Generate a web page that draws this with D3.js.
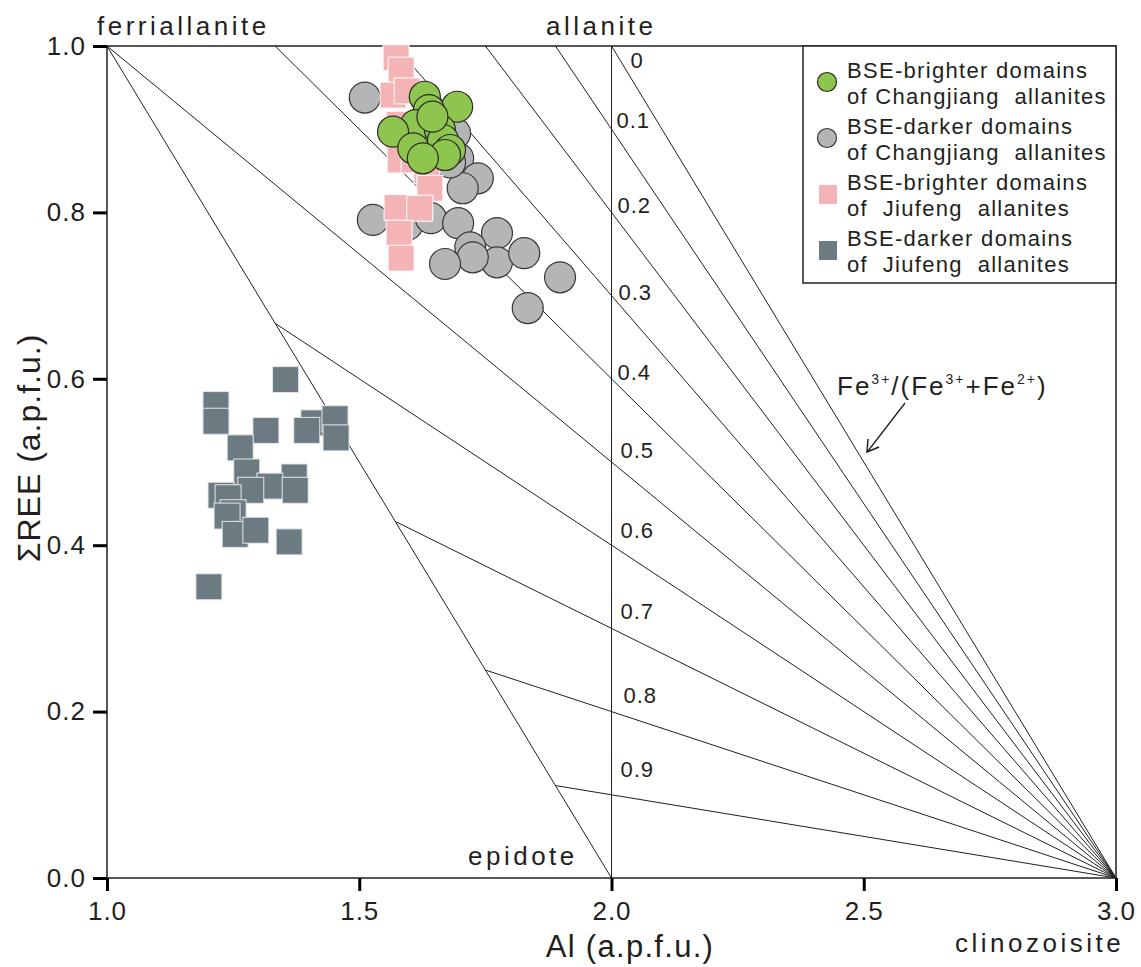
<!DOCTYPE html>
<html>
<head>
<meta charset="utf-8">
<script src="https://cdn.jsdelivr.net/npm/d3@7"></script>
<style>
  body { margin: 0; background: #fff; }
  svg text { font-family: "Liberation Sans", Arial, sans-serif; fill: #231f20; }
</style>
</head>
<body>
<div id="chart"></div>
<script>
// Al vs total REE (a.p.f.u.) values, as [Al, REE]
var changjiangBright = [
  [1.630, 0.939], [1.694, 0.927], [1.638, 0.923], [1.612, 0.905], [1.567, 0.897],
  [1.660, 0.899], [1.666, 0.887], [1.680, 0.875], [1.670, 0.869], [1.607, 0.877],
  [1.626, 0.865], [1.645, 0.915]
];
var changjiangDark = [
  [1.511, 0.938], [1.690, 0.895], [1.696, 0.865], [1.735, 0.841], [1.705, 0.829],
  [1.527, 0.791], [1.595, 0.785], [1.642, 0.793], [1.696, 0.787], [1.773, 0.775],
  [1.720, 0.758], [1.773, 0.740], [1.725, 0.746], [1.670, 0.738], [1.827, 0.751],
  [1.898, 0.722], [1.834, 0.685], [1.680, 0.860]
];
var jiufengBright = [
  [1.573, 0.986], [1.583, 0.971], [1.567, 0.941], [1.595, 0.946], [1.579, 0.906],
  [1.577, 0.891], [1.581, 0.863], [1.609, 0.863], [1.634, 0.850], [1.640, 0.829],
  [1.575, 0.806], [1.620, 0.805], [1.579, 0.775], [1.583, 0.745]
];
var jiufengDark = [
  [1.354, 0.599], [1.216, 0.569], [1.216, 0.549], [1.315, 0.538], [1.264, 0.517],
  [1.410, 0.547], [1.396, 0.538], [1.452, 0.552], [1.454, 0.529], [1.277, 0.488],
  [1.371, 0.482], [1.323, 0.471], [1.373, 0.466], [1.226, 0.460], [1.285, 0.466],
  [1.240, 0.457], [1.250, 0.439], [1.238, 0.435], [1.254, 0.413], [1.295, 0.418],
  [1.361, 0.404], [1.202, 0.350]
];

// Fe3+/(Fe3+ + Fe2+) isolines and their labels
var feRatios = [0, 0.1, 0.2, 0.3, 0.4, 0.5, 0.6, 0.7, 0.8, 0.9];
var feLabels = ["0", "0.1", "0.2", "0.3", "0.4", "0.5", "0.6", "0.7", "0.8", "0.9"];

var xTicks = [1.0, 1.5, 2.0, 2.5, 3.0];
var yTicks = [0, 0.2, 0.4, 0.6, 0.8, 1.0];

var legendItems = [
  ["BSE-brighter domains", "of Changjiang  allanites"],
  ["BSE-darker domains", "of Changjiang  allanites"],
  ["BSE-brighter domains", "of  Jiufeng  allanites"],
  ["BSE-darker domains", "of  Jiufeng  allanites"]
];

var svgWidth = 1141;
var svgHeight = 967;
var plot = { left: 107, right: 1116, top: 46, bottom: 878 };
var ink = "#231f20";

var svg = d3.select("#chart").append("svg")
  .attr("width", svgWidth)
  .attr("height", svgHeight);

var x = d3.scaleLinear().domain([1, 3]).range([plot.left, plot.right]);
var y = d3.scaleLinear().domain([0, 1]).range([plot.bottom, plot.top]);

// isolines: all radiate from clinozoisite (3, 0)
var lines = svg.append("g")
  .attr("stroke", ink)
  .attr("stroke-width", 1)
  .attr("fill", "none");

feRatios.forEach(function(r) {
  var start;
  if (r <= 0.5) start = [3 - 1 / (1 - r), 1];   // meets REE = 1
  else start = [3 - 1 / r, 2 - (3 - 1 / r)];    // meets ferriallanite-epidote join
  lines.append("line")
    .attr("x1", x(start[0])).attr("y1", y(start[1]))
    .attr("x2", x(3)).attr("y2", y(0));
});
// ferriallanite - epidote join and the Al = 2 line
lines.append("line")
  .attr("x1", x(1)).attr("y1", y(1)).attr("x2", x(2)).attr("y2", y(0));
lines.append("line")
  .attr("x1", x(2)).attr("y1", y(1)).attr("x2", x(2)).attr("y2", y(0));

// ratio labels next to the Al = 2 line
var labelDx = [19, 5, 6, 7, 6, 9, 9, 9, 12, 9];
var labelDy = [22, -1, 1, 4, 1, -4, -7, -9, -9, -18];
svg.append("g").selectAll("text")
  .data(feRatios)
  .enter().append("text")
  .attr("x", (d, i) => x(2) + labelDx[i])
  .attr("y", (d, i) => y(1 - d) + labelDy[i])
  .style("font-size", "22px")
  .style("letter-spacing", "1px")
  .text((d, i) => feLabels[i]);

// frame
svg.append("rect")
  .attr("x", plot.left).attr("y", plot.top)
  .attr("width", plot.right - plot.left)
  .attr("height", plot.bottom - plot.top)
  .attr("fill", "none")
  .attr("stroke", ink)
  .attr("stroke-width", 1.5);

// axes
var xAxis = svg.append("g")
  .attr("transform", "translate(0," + plot.bottom + ")")
  .call(d3.axisBottom(x).tickValues(xTicks).tickFormat(d3.format(".1f")).tickSize(13).tickPadding(11));
var yAxis = svg.append("g")
  .attr("transform", "translate(" + plot.left + ",0)")
  .call(d3.axisLeft(y).tickValues(yTicks).tickFormat(d3.format(".1f")).tickSize(14).tickPadding(7));
[xAxis, yAxis].forEach(function(g) {
  g.select(".domain").remove();
  g.selectAll(".tick line").attr("stroke", "#000").attr("stroke-width", 3);
  g.selectAll(".tick text")
    .attr("fill", ink)
    .style("font-family", "'Liberation Sans', Arial, sans-serif")
    .style("font-size", "26px")
    .style("letter-spacing", "1px");
});

// axis titles
svg.append("text")
  .attr("x", 630).attr("y", 957)
  .attr("text-anchor", "middle")
  .style("font-size", "31px")
  .style("letter-spacing", "1.3px")
  .text("Al (a.p.f.u.)");
svg.append("text")
  .attr("transform", "rotate(-90)")
  .attr("x", -448)
  .attr("y", 40)
  .attr("text-anchor", "middle")
  .style("font-size", "32px")
  .style("letter-spacing", "1px")
  .text("ΣREE (a.p.f.u.)");

// end-member names
var endMembers = [
  ["ferriallanite", 97, 35],
  ["allanite", 546, 35],
  ["epidote", 468, 865],
  ["clinozoisite", 955, 952]
];
svg.append("g").selectAll("text")
  .data(endMembers)
  .enter().append("text")
  .attr("x", d => d[1]).attr("y", d => d[2])
  .style("font-size", "26px")
  .style("letter-spacing", "3.5px")
  .text(d => d[0]);

// Fe3+/(Fe3++Fe2+) note with arrow
var note = svg.append("text")
  .attr("x", 837).attr("y", 395)
  .style("font-size", "26px")
  .style("letter-spacing", "2px");
var noteParts = [["Fe", 0], ["3+", 1], ["/(Fe", 0], ["3+", 1], ["+Fe", 0], ["2+", 1], [")", 0]];
noteParts.forEach(function(p, i) {
  var prevSup = i > 0 && noteParts[i - 1][1];
  var t = note.append("tspan").text(p[0]);
  if (p[1]) t.style("font-size", "14px").attr("dy", -11);
  else t.attr("dy", prevSup ? 11 : 0);
});
svg.append("line")
  .attr("x1", 905).attr("y1", 403).attr("x2", 868).attr("y2", 451)
  .attr("stroke", ink).attr("stroke-width", 1.3);
svg.append("path")
  .attr("d", "M868,439 L867,452 L879,447")
  .attr("fill", "none").attr("stroke", ink).attr("stroke-width", 1.5);

// data points
var circleR = 15.5;
var sq = 26;
svg.append("g").selectAll("circle")
  .data(changjiangDark).enter().append("circle")
  .attr("cx", d => x(d[0])).attr("cy", d => y(d[1])).attr("r", circleR)
  .attr("fill", "#b4b5b7").attr("stroke", "#3b3536").attr("stroke-width", 1.2);
svg.append("g").selectAll("rect")
  .data(jiufengBright).enter().append("rect")
  .attr("x", d => x(d[0]) - sq / 2).attr("y", d => y(d[1]) - sq / 2)
  .attr("width", sq).attr("height", sq)
  .attr("fill", "#f4b3b5").attr("stroke", "#fff").attr("stroke-width", 1);
svg.append("g").selectAll("circle")
  .data(changjiangBright).enter().append("circle")
  .attr("cx", d => x(d[0])).attr("cy", d => y(d[1])).attr("r", circleR)
  .attr("fill", "#8dc54f").attr("stroke", "#2a2a22").attr("stroke-width", 1.2);
svg.append("g").selectAll("rect")
  .data(jiufengDark).enter().append("rect")
  .attr("x", d => x(d[0]) - sq / 2).attr("y", d => y(d[1]) - sq / 2)
  .attr("width", sq).attr("height", sq)
  .attr("fill", "#6c7a81").attr("stroke", "#e6e8ea").attr("stroke-width", 1);

// legend
var legend = svg.append("g");
legend.append("rect")
  .attr("x", 803).attr("y", plot.top)
  .attr("width", plot.right - 803).attr("height", 283 - plot.top)
  .attr("fill", "#fff").attr("stroke", ink).attr("stroke-width", 1.5);
var legendSym = [
  { type: "circle", fill: "#8dc54f", stroke: "#2a2a22" },
  { type: "circle", fill: "#b4b5b7", stroke: "#3b3536" },
  { type: "rect", fill: "#f4b3b5" },
  { type: "rect", fill: "#6c7a81" }
];
legendItems.forEach(function(lines2, i) {
  var top = 78 + i * 56;
  var s = legendSym[i];
  if (s.type === "circle") {
    legend.append("circle").attr("cx", 827).attr("cy", top + 4).attr("r", 9.5)
      .attr("fill", s.fill).attr("stroke", s.stroke).attr("stroke-width", 1.2);
  } else {
    legend.append("rect").attr("x", 819).attr("y", top - 5).attr("width", 18).attr("height", 19)
      .attr("fill", s.fill);
  }
  lines2.forEach(function(t, j) {
    legend.append("text")
      .attr("x", 847).attr("y", top + j * 26)
      .style("font-size", "22px")
      .style("letter-spacing", "1.3px")
      .style("white-space", "pre")
      .text(t);
  });
});
</script>
</body>
</html>
